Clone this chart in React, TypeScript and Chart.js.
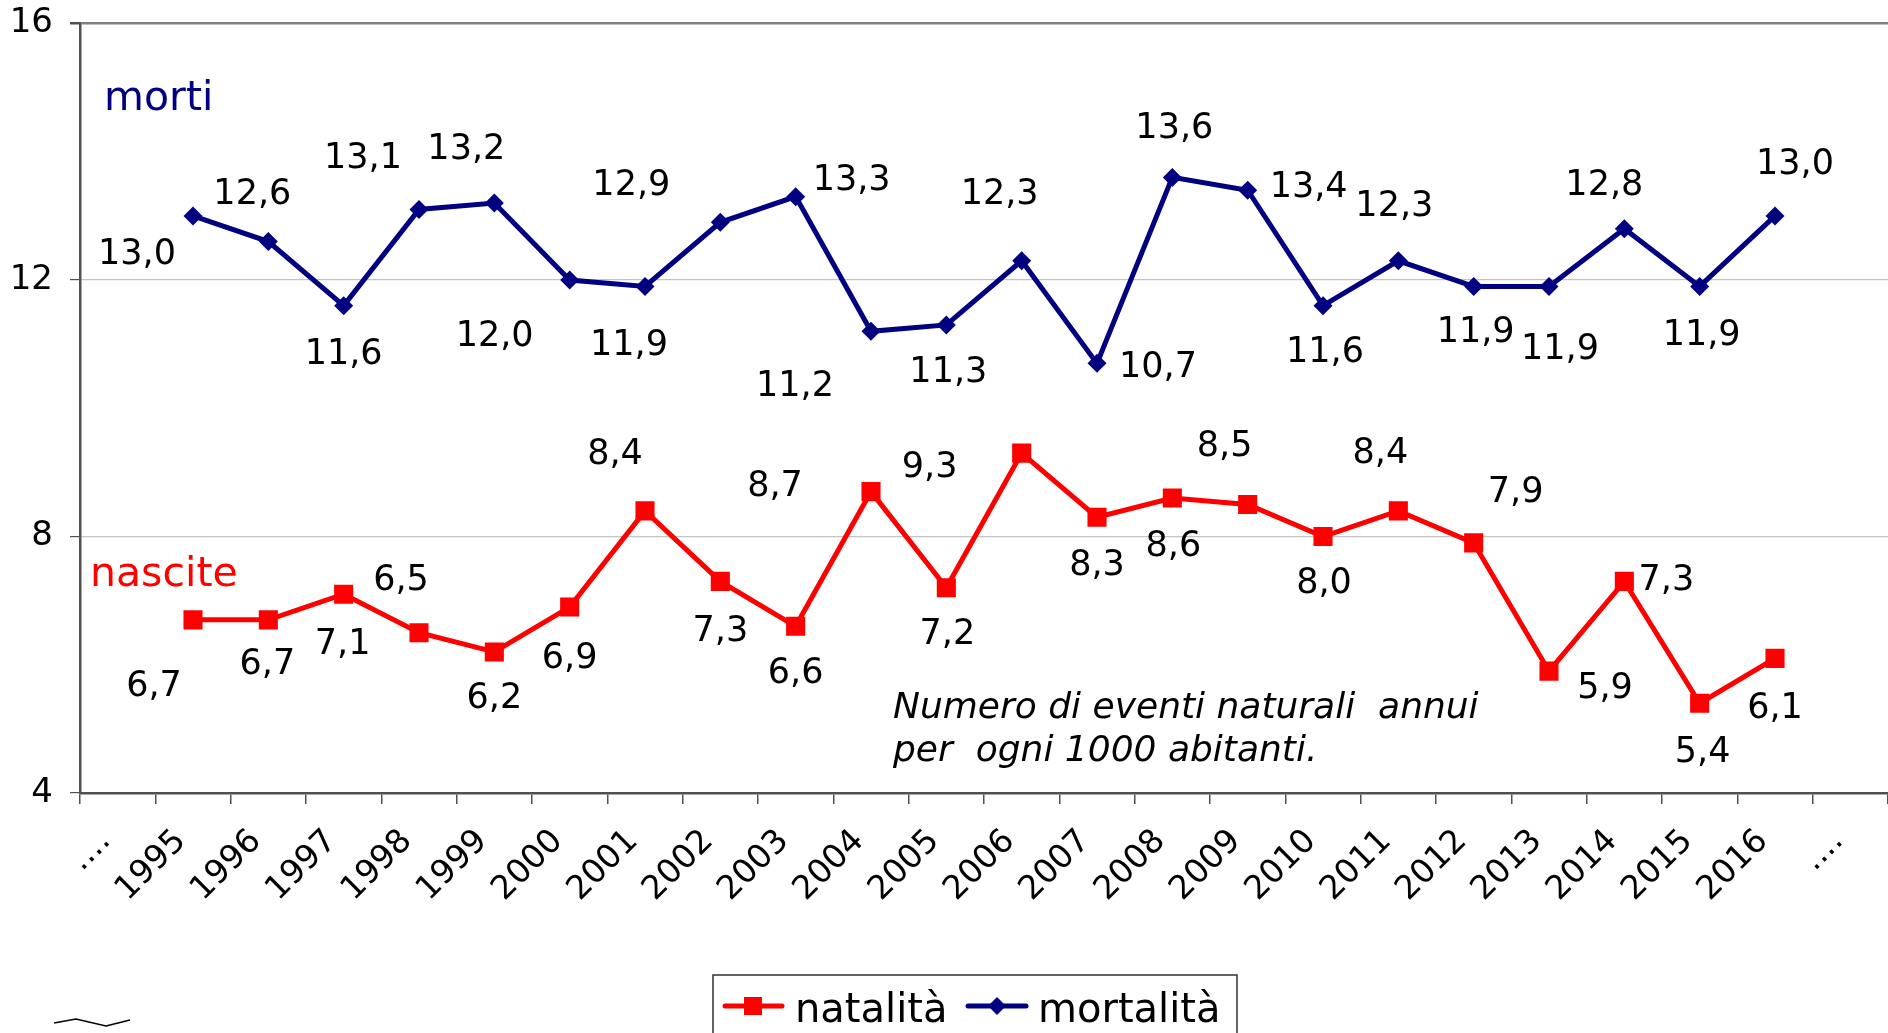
import React, { useEffect, useRef } from 'react';
import { Chart, registerables } from 'chart.js';

Chart.register(...registerables);

const FONT = "'DejaVu Sans', Verdana, sans-serif";

const categories = ['....', '1995', '1996', '1997', '1998', '1999', '2000', '2001', '2002', '2003', '2004', '2005', '2006', '2007', '2008', '2009', '2010', '2011', '2012', '2013', '2014', '2015', '2016', '....'];

const natalita = [null, 6.7, 6.7, 7.1, 6.5, 6.2, 6.9, 8.4, 7.3, 6.6, 8.7, 7.2, 9.3, 8.3, 8.6, 8.5, 8.0, 8.4, 7.9, 5.9, 7.3, 5.4, 6.1, null];
const mortalita = [null, 13.0, 12.6, 11.6, 13.1, 13.2, 12.0, 11.9, 12.9, 13.3, 11.2, 11.3, 12.3, 10.7, 13.6, 13.4, 11.6, 12.3, 11.9, 11.9, 12.8, 11.9, 13.0, null];

const yTicks = [4, 8, 12, 16];

const seriesNames = ['natalità', 'mortalità'];
const seriesTags = ['nascite', 'morti'];
const noteLines = ['Numero di eventi naturali  annui', 'per  ogni 1000 abitanti.'];

// label placement (style only): offset of each value label's centre from its point
const natOffsets: ([number, number] | null)[] = [null,
  [-39, 64], [-1, 42], [-1, 47], [-18, -55], [0, 44], [0, 48], [-30, -59], [0, 47], [0, 44], [-96, -8], [1, 44],
  [-92, 11], [0, 45], [1, 45], [-23, -61], [1, 44], [-18, -60], [42, -53], [56, 14], [42, -4], [3, 46], [0, 47], null];
const morOffsets: ([number, number] | null)[] = [null,
  [-56, 36], [-16, -50], [0, 46], [-56, -54], [-28, -57], [-75, 53], [-16, 56], [-89, -40], [56, -19], [-76, 52], [2, 45],
  [-22, -69], [61, 1], [2, -52], [61, -6], [2, 44], [-4, -57], [2, 43], [11, 60], [-20, -46], [2, 46], [20, -54], null];

const RED = '#ff0000';
const NAVY = '#000080';

const fmt = (v: number) => v.toFixed(1).replace('.', ',');

const decorPlugin = {
  id: 'decor',
  afterDatasetsDraw(chart: any) {
    const ctx: CanvasRenderingContext2D = chart.ctx;
    ctx.save();
    // value labels
    ctx.font = `35px ${FONT}`;
    ctx.fillStyle = '#000';
    ctx.textAlign = 'center';
    ctx.textBaseline = 'alphabetic';
    const offs = [natOffsets, morOffsets];
    chart.data.datasets.forEach((ds: any, di: number) => {
      const meta = chart.getDatasetMeta(di);
      meta.data.forEach((el: any, i: number) => {
        const v = ds.data[i];
        const o = offs[di][i];
        if (v == null || !o) return;
        ctx.fillText(fmt(v), el.x + o[0], el.y + o[1] + 12.5);
      });
    });

    // series tags inside plot
    ctx.textAlign = 'left';
    ctx.font = `41px ${FONT}`;
    ctx.fillStyle = NAVY;
    ctx.fillText(seriesTags[1], 104, 110);
    ctx.fillStyle = RED;
    ctx.fillText(seriesTags[0], 90, 586);

    // note
    ctx.fillStyle = '#000';
    ctx.font = `italic 36px ${FONT}`;
    ctx.fillText(noteLines[0], 893, 718);
    ctx.fillText(noteLines[1], 893, 761);
    ctx.restore();
  },
  afterDraw(chart: any) {
    const ctx: CanvasRenderingContext2D = chart.ctx;
    ctx.save();
    // legend box
    ctx.strokeStyle = '#303030';
    ctx.lineWidth = 1.5;
    ctx.strokeRect(713, 975, 524, 80);
    ctx.fillStyle = '#000';
    ctx.font = `40px ${FONT}`;
    ctx.textAlign = 'left';
    ctx.textBaseline = 'alphabetic';
    const ly = 1006;
    // natalità
    ctx.strokeStyle = RED;
    ctx.lineWidth = 5;
    ctx.lineCap = 'round';
    ctx.beginPath();
    ctx.moveTo(725, ly);
    ctx.lineTo(782, ly);
    ctx.stroke();
    ctx.fillStyle = RED;
    ctx.fillRect(744, ly - 9, 18, 18);
    ctx.fillStyle = '#000';
    ctx.fillText(seriesNames[0], 795, 1022);
    // mortalità
    ctx.strokeStyle = NAVY;
    ctx.beginPath();
    ctx.moveTo(968, ly);
    ctx.lineTo(1026, ly);
    ctx.stroke();
    ctx.fillStyle = NAVY;
    ctx.beginPath();
    ctx.moveTo(997 - 9, ly);
    ctx.lineTo(997, ly - 9);
    ctx.lineTo(997 + 9, ly);
    ctx.lineTo(997, ly + 9);
    ctx.closePath();
    ctx.fill();
    ctx.fillStyle = '#000';
    ctx.fillText(seriesNames[1], 1038, 1022);

    // small stray stroke bottom-left
    ctx.strokeStyle = '#000';
    ctx.lineWidth = 1.3;
    ctx.lineCap = 'butt';
    ctx.beginPath();
    ctx.moveTo(54, 1023);
    ctx.lineTo(76, 1019);
    ctx.lineTo(106, 1026);
    ctx.lineTo(130, 1020);
    ctx.stroke();
    ctx.restore();
  },
};

export default function App() {
  const ref = useRef<HTMLCanvasElement | null>(null);
  useEffect(() => {
    document.body.style.margin = '0';
    const canvas = ref.current;
    if (!canvas) return;
    Chart.defaults.font.family = FONT;
    const chart = new Chart(canvas, {
      type: 'line',
      data: {
        labels: categories,
        datasets: [
          {
            label: seriesNames[0],
            data: natalita,
            borderColor: RED,
            backgroundColor: RED,
            borderWidth: 5,
            pointStyle: 'rect',
            pointRadius: 13.5,
            pointBorderWidth: 0,
            pointBackgroundColor: RED,
            tension: 0,
            spanGaps: false,
          },
          {
            label: seriesNames[1],
            data: mortalita,
            borderColor: NAVY,
            backgroundColor: NAVY,
            borderWidth: 5,
            pointStyle: 'rectRot',
            pointRadius: 9.5,
            pointBorderWidth: 0,
            pointBackgroundColor: NAVY,
            tension: 0,
            spanGaps: false,
          },
        ],
      },
      options: {
        responsive: false,
        animation: false,
        layout: { autoPadding: false, padding: { top: 23.5, right: 0, left: 0, bottom: 0 } },
        plugins: {
          legend: { display: false },
          tooltip: { enabled: false },
        },
        scales: {
          x: {
            offset: true,
            grid: {
              offset: true,
              drawOnChartArea: false,
              drawTicks: true,
              tickLength: 11,
              tickColor: '#505050',
              lineWidth: 1.5,
            },
            border: { color: '#505050', width: 2.5 },
            ticks: {
              autoSkip: false,
              minRotation: 45,
              maxRotation: 45,
              color: '#000',
              font: { size: 33, family: FONT },
              padding: 18,
              labelOffset: -12,
            },
            afterFit: (scale: any) => {
              scale.height = 240;
              scale.paddingLeft = 0;
              scale.paddingRight = 0;
            },
          },
          y: {
            min: 4,
            max: 16,
            afterBuildTicks: (scale: any) => {
              scale.ticks = yTicks.map((v) => ({ value: v }));
            },
            grid: {
              color: (c: any) => (c.tick && c.tick.value === 16 ? '#808080' : '#c4c4c4'),
              lineWidth: (c: any) => (c.tick && c.tick.value === 16 ? 2.5 : 1.2),
              tickLength: 10,
              tickColor: '#505050',
            },
            border: { color: '#505050', width: 2.5 },
            ticks: {
              color: '#000',
              font: { size: 34, family: FONT },
              padding: 17,
            },
            afterFit: (scale: any) => {
              scale.width = 80;
              scale.paddingTop = 0;
              scale.paddingBottom = 0;
            },
          },
        },
      },
      plugins: [decorPlugin],
    });
    return () => chart.destroy();
  }, []);
  return (
    <div style={{ position: 'absolute', left: 0, top: 0, width: 1888, height: 1033, background: '#fff' }}>
      <canvas ref={ref} width={1888} height={1033} style={{ display: 'block', width: 1888, height: 1033 }} />
    </div>
  );
}
